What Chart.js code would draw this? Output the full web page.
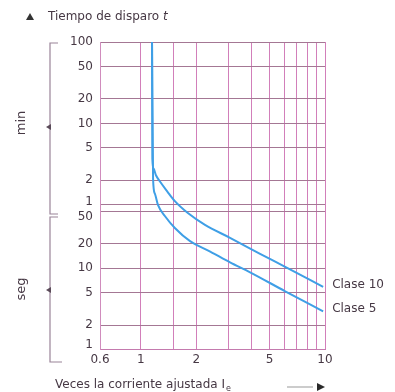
<!DOCTYPE html>
<html>
<head>
<meta charset="utf-8">
<title>Tiempo de disparo</title>
<script src="https://cdn.jsdelivr.net/npm/chart.js"></script>
<style>
    html, body { margin: 0; padding: 0; background: #ffffff; }
    #wrap { width: 395px; height: 392px; }
</style>
</head>
<body>
<div id="wrap"><canvas id="trip-chart" width="395" height="392"></canvas></div>
<script>
    // x: multiples of the set current, y: trip time in seconds
    const xGrid = [0.6, 1, 1.5, 2, 3, 4, 5, 6, 7, 8, 9, 10];
    const xTickLabels = ['0.6', '1', '2', '5', '10'];
    const yGridSeconds = [6000, 3000, 1200, 600, 300, 120, 60, 50, 20, 10, 5, 2, 1];
    const yTickLabels = ['100', '50', '20', '10', '5', '2', '1', '50', '20', '10', '5', '2', '1'];

    const seriesNames = ['Clase 10', 'Clase 5'];
    const clase10X = [1.15, 1.155, 1.172, 1.21, 1.27, 1.39, 1.53, 1.80, 2.23, 3.05, 4.44, 6.08, 9.77];
    const clase10T = [6000, 221, 167, 137.5, 116, 88, 66.5, 47.5, 34, 23.6, 15.0, 10.4, 5.9];
    const clase5X = [1.15, 1.165, 1.19, 1.24, 1.35, 1.53, 1.85, 2.38, 3.05, 3.92, 6.08, 9.77];
    const clase5T = [6000, 126, 83, 59.4, 43.7, 31.2, 21.5, 16.0, 11.8, 8.9, 5.2, 2.95];

    const textColor = '#463844';
    const font = '"DejaVu Sans", sans-serif';

    function toPoints(xs, ts) {
        return xs.map((x, i) => ({ x: x, y: ts[i] }));
    }

    // y labels, brackets, titles and curve names
    const annotations = {
        id: 'annotations',
        afterDraw(chart) {
            const ctx = chart.ctx;
            const yScale = chart.scales.y;
            ctx.save();

            ctx.fillStyle = textColor;
            ctx.font = '12px ' + font;
            ctx.textAlign = 'right';
            ctx.textBaseline = 'middle';
            yGridSeconds.forEach((v, i) => {
                let shift = 0;
                if (v === 60) shift = -3;
                if (v === 50) shift = 6;
                if (v === 1) shift = -5;
                ctx.fillText(yTickLabels[i], 93, yScale.getPixelForValue(v) + shift);
            });

            // curve names next to the last point
            ctx.textAlign = 'left';
            chart.data.datasets.forEach((ds, i) => {
                const meta = chart.getDatasetMeta(i);
                const last = meta.data[meta.data.length - 1];
                ctx.fillText(ds.label, last.x + 9, last.y - 2);
            });

            // min / seg brackets
            ctx.strokeStyle = '#9a8498';
            ctx.lineWidth = 1.2;
            ctx.beginPath();
            ctx.moveTo(58, 43); ctx.lineTo(50, 43); ctx.lineTo(50, 214); ctx.lineTo(58, 214);
            ctx.moveTo(58, 217); ctx.lineTo(50, 217); ctx.lineTo(50, 362); ctx.lineTo(62, 362);
            ctx.stroke();
            ctx.fillStyle = '#5a4a58';
            [127, 290].forEach(ay => {
                ctx.beginPath();
                ctx.moveTo(46, ay); ctx.lineTo(51, ay - 3); ctx.lineTo(51, ay + 3);
                ctx.closePath(); ctx.fill();
            });

            ctx.fillStyle = textColor;
            ctx.font = '13px ' + font;
            ctx.textAlign = 'center';
            [['min', 123], ['seg', 289]].forEach(([txt, cy]) => {
                ctx.save();
                ctx.translate(22, cy);
                ctx.rotate(-Math.PI / 2);
                ctx.fillText(txt, 0, 0);
                ctx.restore();
            });

            // title at the top
            ctx.fillStyle = '#333333';
            ctx.beginPath();
            ctx.moveTo(30, 13); ctx.lineTo(34, 20); ctx.lineTo(26, 20);
            ctx.closePath(); ctx.fill();
            ctx.textAlign = 'left';
            ctx.fillStyle = textColor;
            ctx.font = '12px ' + font;
            const head = 'Tiempo de disparo ';
            ctx.fillText(head, 48, 17);
            const w = ctx.measureText(head).width;
            ctx.font = 'italic 12px ' + font;
            ctx.fillText('t', 48 + w, 17);

            // x axis title
            ctx.font = '12px ' + font;
            const xt = 'Veces la corriente ajustada I';
            ctx.fillText(xt, 55, 385);
            const xw = ctx.measureText(xt).width;
            ctx.font = '8px ' + font;
            ctx.fillText('e', 55 + xw + 1, 389);
            ctx.strokeStyle = '#cccccc';
            ctx.lineWidth = 2;
            ctx.beginPath();
            ctx.moveTo(287, 387); ctx.lineTo(313, 387);
            ctx.stroke();
            ctx.fillStyle = '#2a2a2a';
            ctx.beginPath();
            ctx.moveTo(317, 383); ctx.lineTo(325, 387); ctx.lineTo(317, 391);
            ctx.closePath(); ctx.fill();

            ctx.restore();
        }
    };

    const ctx = document.getElementById('trip-chart').getContext('2d');
    const tripChart = new Chart(ctx, {
        type: 'line',
        data: {
            datasets: [{
                label: seriesNames[0],
                data: toPoints(clase10X, clase10T),
                borderColor: '#3f9fe6',
                borderWidth: 2,
                pointRadius: 0,
                cubicInterpolationMode: 'monotone',
                fill: false
            }, {
                label: seriesNames[1],
                data: toPoints(clase5X, clase5T),
                borderColor: '#3f9fe6',
                borderWidth: 2,
                pointRadius: 0,
                cubicInterpolationMode: 'monotone',
                fill: false
            }]
        },
        options: {
            responsive: false,
            animation: false,
            devicePixelRatio: 1,
            layout: { padding: { left: 100, right: 70, top: 42, bottom: 22 } },
            plugins: {
                legend: { display: false },
                tooltip: { enabled: false }
            },
            scales: {
                x: {
                    type: 'logarithmic',
                    min: 0.6,
                    max: 10,
                    afterBuildTicks: axis => { axis.ticks = xGrid.map(v => ({ value: v })); },
                    grid: { color: '#d27fba', lineWidth: 1, drawTicks: false },
                    border: { color: '#c47aae' },
                    ticks: {
                        autoSkip: false,
                        maxRotation: 0,
                        padding: 3,
                        color: textColor,
                        font: { family: 'DejaVu Sans', size: 12 },
                        callback: v => xTickLabels.includes(String(v)) ? String(v) : ''
                    }
                },
                y: {
                    type: 'logarithmic',
                    min: 1,
                    max: 6000,
                    afterBuildTicks: axis => { axis.ticks = yGridSeconds.map(v => ({ value: v })); },
                    grid: { color: '#a47794', lineWidth: 1, drawTicks: false },
                    border: { color: '#d08cbd' },
                    ticks: { display: false }
                }
            }
        },
        plugins: [annotations]
    });
</script>
</body>
</html>
